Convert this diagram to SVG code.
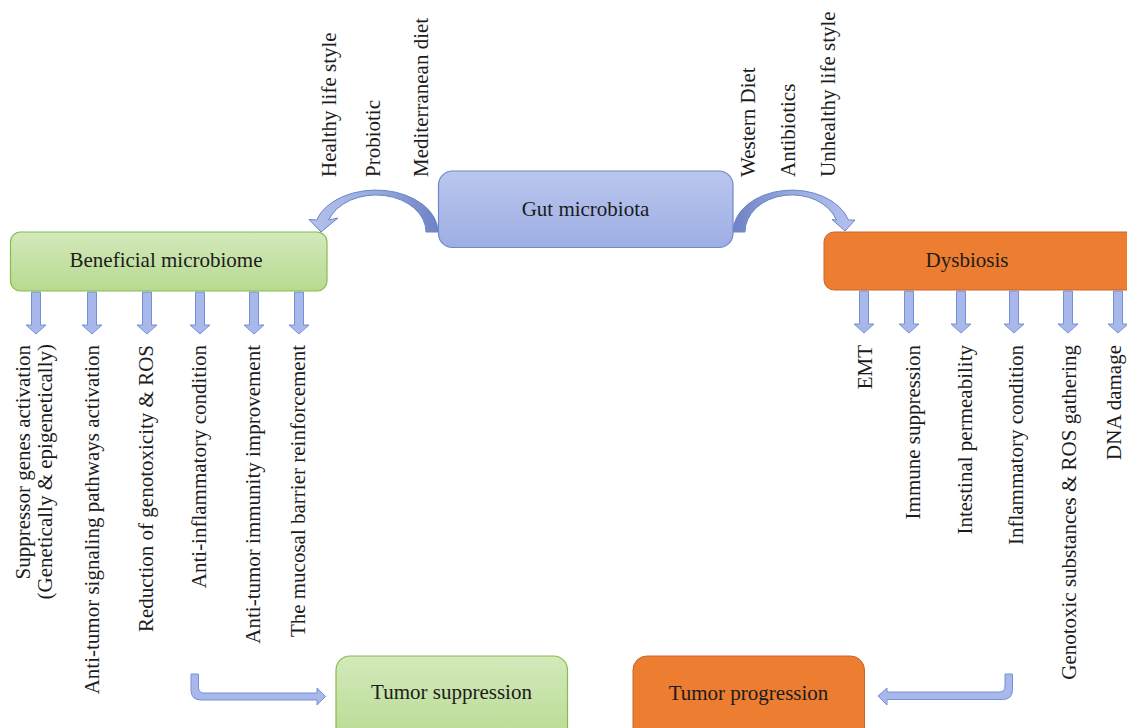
<svg xmlns="http://www.w3.org/2000/svg" xmlns:xlink="http://www.w3.org/1999/xlink" width="1127" height="728" viewBox="0 0 1127 728">
<defs>
<linearGradient id="gBlue" x1="0" y1="0" x2="0" y2="1"><stop offset="0" stop-color="#bac6ee"/><stop offset="1" stop-color="#9eaee3"/></linearGradient>
<linearGradient id="gGreen" x1="0" y1="0" x2="0" y2="1"><stop offset="0" stop-color="#d3e9bb"/><stop offset="1" stop-color="#b7da8f"/></linearGradient>
<linearGradient id="gCurvL" x1="1" y1="0" x2="0" y2="0"><stop offset="0" stop-color="#6f82c2"/><stop offset="0.5" stop-color="#9aacdf"/><stop offset="1" stop-color="#b3c1ec"/></linearGradient>
<linearGradient id="gCurvR" x1="0" y1="0" x2="1" y2="0"><stop offset="0" stop-color="#6f82c2"/><stop offset="0.5" stop-color="#9aacdf"/><stop offset="1" stop-color="#b3c1ec"/></linearGradient>
<path id="da" d="M-4.5,0 V33 H-10 L0,42 L10,33 H4.5 V0 Z"/>
</defs>
<style>
.t{font-family:"Liberation Serif","Times New Roman",serif;font-size:21px;fill:#1c1c1c}
.c{text-anchor:middle}
.e{text-anchor:end}
.arr{fill:#a9b8ea;stroke:#7590d6;stroke-width:1}
.blue{fill:url(#gBlue);stroke:#6f88cc;stroke-width:1.2}
.green{fill:url(#gGreen);stroke:#86bb4e;stroke-width:1.2}
.orange{fill:#ed7d31;stroke:#c9662a;stroke-width:1}
</style>
<rect width="1127" height="728" fill="#ffffff"/>

<g id="connectors">
<path d="M438,232 A62,42 0 0 0 316.6,220 L309,219.5 L321,232 L338,218 L328.7,220 A50,37 0 0 1 426,232 Z" fill="url(#gCurvL)" stroke="#6a85cc" stroke-width="1"/>
<path d="M733,232 A59,42 0 0 1 848.5,220 L855,220 L845,231 L832,219.5 L836.5,220 A47,37 0 0 0 745,232 Z" fill="url(#gCurvR)" stroke="#6a85cc" stroke-width="1"/>
<use xlink:href="#da" class="arr" x="36" y="292"/>
<use xlink:href="#da" class="arr" x="92" y="292"/>
<use xlink:href="#da" class="arr" x="147" y="292"/>
<use xlink:href="#da" class="arr" x="200" y="292"/>
<use xlink:href="#da" class="arr" x="254" y="292"/>
<use xlink:href="#da" class="arr" x="299" y="292"/>
<use xlink:href="#da" class="arr" x="864" y="291"/>
<use xlink:href="#da" class="arr" x="909" y="291"/>
<use xlink:href="#da" class="arr" x="961" y="291"/>
<use xlink:href="#da" class="arr" x="1014" y="291"/>
<use xlink:href="#da" class="arr" x="1068" y="291"/>
<use xlink:href="#da" class="arr" x="1118" y="291"/>
<path class="arr" d="M191,674 V690 Q191,700 201,700 H317 V705 L325.5,696.5 L317,688 V693 H204 Q198.5,693 198.5,687 V674 Z"/>
<path class="arr" d="M1012.5,674 V689.5 Q1012.5,699.5 1002.5,699.5 H887 V705 L878,696 L887,688 V692 H999 Q1005,692 1005,686 V674 Z"/>
</g>

<g id="node-gut">
<rect class="blue" x="438.5" y="171" width="294.5" height="76.5" rx="14"/>
<text class="t c" x="585.5" y="216">Gut microbiota</text>
</g>

<g id="node-beneficial">
<rect class="green" x="10.5" y="232" width="316.5" height="59" rx="10"/>
<text class="t c" x="166" y="267">Beneficial microbiome</text>
</g>

<g id="node-dysbiosis">
<rect class="orange" x="824" y="232" width="320" height="58" rx="10"/>
<text class="t c" x="967" y="267">Dysbiosis</text>
</g>

<g id="node-tumor-suppression">
<rect class="green" x="336" y="656" width="231.5" height="90" rx="14"/>
<text class="t c" x="451.5" y="699">Tumor suppression</text>
</g>

<g id="node-tumor-progression">
<rect class="orange" x="633" y="656" width="231.5" height="90" rx="14"/>
<text class="t c" x="748.5" y="700">Tumor progression</text>
</g>

<g id="factors-healthy">
<text class="t" transform="translate(336,177) rotate(-90)">Healthy life style</text>
<text class="t" transform="translate(380,177) rotate(-90)">Probiotic</text>
<text class="t" transform="translate(428,177) rotate(-90)">Mediterranean diet</text>
</g>

<g id="factors-unhealthy">
<text class="t" transform="translate(755,177) rotate(-90)">Western Diet</text>
<text class="t" transform="translate(795,177) rotate(-90)">Antibiotics</text>
<text class="t" transform="translate(835,177) rotate(-90)">Unhealthy life style</text>
</g>

<g id="beneficial-effects">
<text class="t e" transform="translate(30,345) rotate(-90)">Suppressor genes activation</text>
<text class="t e" transform="translate(52,344) rotate(-90)">(Genetically &amp; epigenetically)</text>
<text class="t e" transform="translate(99,345) rotate(-90)">Anti-tumor signaling pathways activation</text>
<text class="t e" transform="translate(152.5,345) rotate(-90)">Reduction of genotoxicity &amp; ROS</text>
<text class="t e" transform="translate(206,345) rotate(-90)">Anti-inflammatory condition</text>
<text class="t e" transform="translate(259.5,345) rotate(-90)">Anti-tumor immunity improvement</text>
<text class="t e" transform="translate(304.5,345) rotate(-90)">The mucosal barrier reinforcement</text>
</g>

<g id="dysbiosis-effects">
<text class="t e" transform="translate(871.5,345) rotate(-90)">EMT</text>
<text class="t e" transform="translate(920,345) rotate(-90)">Immune suppression</text>
<text class="t e" transform="translate(971.5,345) rotate(-90)">Intestinal permeability</text>
<text class="t e" transform="translate(1022.5,345) rotate(-90)">Inflammatory condition</text>
<text class="t e" transform="translate(1075.5,345) rotate(-90)">Genotoxic substances &amp; ROS gathering</text>
<text class="t e" transform="translate(1121,345) rotate(-90)">DNA damage</text>
</g>
</svg>
